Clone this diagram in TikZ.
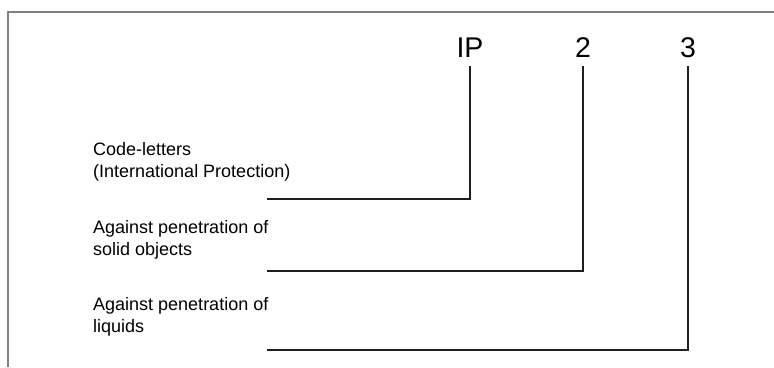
\documentclass[tikz,border=0pt]{standalone}
\usepackage{fontspec}
\setmainfont{Liberation Sans}
\begin{document}
\begin{tikzpicture}[x=1pt,y=-1pt,
  frame/.style={draw=black!50,line width=1.3pt},
  conn/.style={draw=black!88,line width=1.8pt},
  codechar/.style={inner sep=0pt,text depth=0pt,outer ysep=9pt,anchor=base,
    font=\fontsize{28.5}{30}\selectfont},
  desc/.style={inner sep=0pt,anchor=base west,
    font=\fontsize{18}{22}\selectfont}]
  \useasboundingbox (0,0) rectangle (774,367);

  % open frame: top edge and left edge
  \draw[frame] (774,12) -- (8,12) -- (8,367);

  % the code characters
  \node[codechar] (ip) at (470,57) {IP};
  \node[codechar] (two) at (583,57) {2};
  \node[codechar] (three) at (688,57) {3};

  % descriptions
  \node[desc] (d1) at (93,155.5) {\begin{tabular}[t]{@{}l@{}}Code-letters\\(International Protection)\end{tabular}};
  \node[desc] (d2) at (93,233) {\begin{tabular}[t]{@{}l@{}}Against penetration of\\solid objects\end{tabular}};
  \node[desc] (d3) at (93,310) {\begin{tabular}[t]{@{}l@{}}Against penetration of\\liquids\end{tabular}};

  % leader line ends under each description
  \coordinate (e1) at (267,199);
  \coordinate (e2) at (267,271);
  \coordinate (e3) at (267,350);

  \draw[conn] (e1) -| (ip.south);
  \draw[conn] (e2) -| (two.south);
  \draw[conn] (e3) -| (three.south);
\end{tikzpicture}
\end{document}
